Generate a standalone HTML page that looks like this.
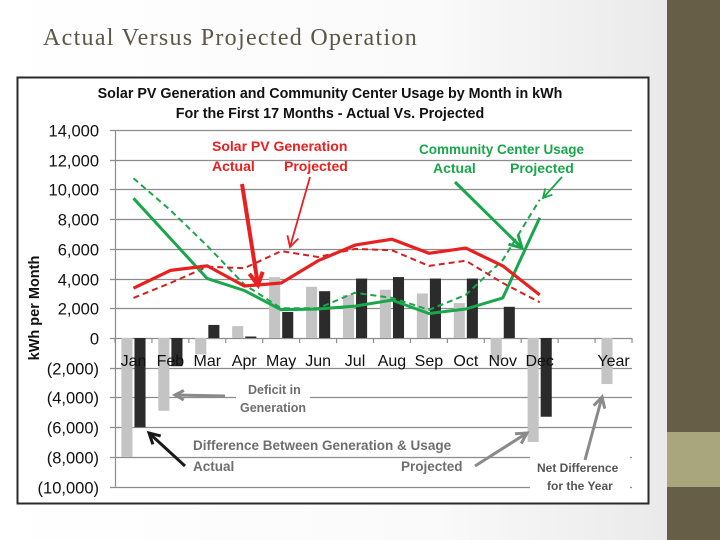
<!DOCTYPE html>
<html><head><meta charset="utf-8">
<style>
html,body{margin:0;padding:0;}
body{width:720px;height:540px;overflow:hidden;position:relative;background:linear-gradient(90deg,#ffffff 0%,#fafafa 60%,#e6e6e6 100%);font-family:"Liberation Sans",sans-serif;}
#side{position:absolute;left:667px;top:0;width:53px;height:540px;background:#675e47;}
#tan{position:absolute;left:667px;top:432px;width:53px;height:55px;background:#a9a57c;}
#title{position:absolute;left:43px;top:25px;font-family:"Liberation Serif",serif;font-size:24px;letter-spacing:1.3px;color:#5b5746;white-space:nowrap;}
svg{position:absolute;left:0;top:0;}
</style></head><body>
<div id="side"></div>
<div id="tan"></div>
<div id="title">Actual Versus Projected Operation</div>
<svg id="chart" width="720" height="540"></svg>
<script>
const categories=["Jan","Feb","Mar","Apr","May","Jun","Jul","Aug","Sep","Oct","Nov","Dec","","Year"];
const yTicks=[14000,12000,10000,8000,6000,4000,2000,0,-2000,-4000,-6000,-8000,-10000];
const yTickLabels=["14,000","12,000","10,000","8,000","6,000","4,000","2,000","0","(2,000)","(4,000)","(6,000)","(8,000)","(10,000)"];
const diffProjected=[-8000,-4900,-1100,800,4100,3450,2900,3250,3000,2350,-1500,-7000,null,-3100];
const diffActual=[-6000,-1900,880,100,1750,3150,4000,4100,4000,4000,2100,-5300,null,null];
const solarActual=[3350,4550,4850,3500,3700,5200,6250,6650,5700,6050,4850,2900];
const solarProjected=[2700,3700,4800,4700,5850,5450,6000,5900,4850,5200,3700,2400];
const usageActual=[9400,6700,4000,3200,1900,1950,2150,2550,1650,1950,2700,8100];
const usageProjected=[10750,8600,6200,3600,2000,2000,3050,2700,1900,2900,5250,9300];

const NS="http://www.w3.org/2000/svg";
const svg=document.getElementById('chart');
const X0=115,X1=632,Y14=130,Y0=338;
const step=(X1-X0)/categories.length;
function xC(i){return X0+step*(i+0.5);}
function yS(v){return Y0-(v/2000)*((Y0-Y14)/7);}
function mk(tag,attrs,parent){const e=document.createElementNS(NS,tag);for(const k in attrs)e.setAttribute(k,attrs[k]);(parent||svg).appendChild(e);return e;}
function txt(s,x,y,attrs,parent){const t=mk('text',Object.assign({x:x,y:y},attrs),parent);t.textContent=s;return t;}

const frame=mk('rect',{x:17.5,y:77.5,width:631,height:426,fill:'#fff',stroke:'#2a2a2a','stroke-width':2});


const ct1=txt('Solar PV Generation and Community Center Usage by Month in kWh',330,98,{'font-size':14.3,'font-weight':'bold','text-anchor':'middle',fill:'#111'});


const ct2=txt('For the First 17 Months - Actual Vs. Projected',330,118,{'font-size':14.3,'font-weight':'bold','text-anchor':'middle',fill:'#111'});



yTicks.forEach((v,i)=>{
  const y=Math.round(yS(v))+0.5;
  const g=mk('line',{x1:X0-5,y1:y,x2:X1,y2:y,stroke:'#8c8c8c','stroke-width':1.2});
  
  
  const t=txt(yTickLabels[i],99,y+6,{'font-size':16.5,'text-anchor':'end',fill:'#111'});
  
  
});
const ax=mk('line',{x1:X0+0.5,y1:yS(14000),x2:X0+0.5,y2:yS(-10000),stroke:'#8c8c8c','stroke-width':1.2});


const yt=txt('kWh per Month',0,0,{'font-size':14.5,'font-weight':'bold',fill:'#111','text-anchor':'middle',transform:'translate(39,308) rotate(-90)'});



const bw=step*0.3;
categories.forEach((c,i)=>{
  if(diffProjected[i]!==null){
    const v=diffProjected[i],y1=yS(Math.max(v,0)),y2=yS(Math.min(v,0));
    const b=mk('rect',{x:xC(i)-bw-1,y:y1,width:bw,height:y2-y1,fill:'#c4c4c4'});
    
    
  }
  if(diffActual[i]!==null){
    const v=diffActual[i],y1=yS(Math.max(v,0)),y2=yS(Math.min(v,0));
    const b=mk('rect',{x:xC(i)+1,y:y1,width:bw,height:y2-y1,fill:'#2b2b2b'});
    
    
  }
});
for(let i=0;i<=categories.length;i++){
  const x=X0+step*i;
  const tk=mk('line',{x1:x,y1:Y0,x2:x,y2:Y0+5,stroke:'#8c8c8c','stroke-width':1.2});
  
  
}
categories.forEach((c,i)=>{
  if(!c)return;
  const t=txt(c,xC(i),366,{'font-size':16,'text-anchor':'middle',fill:'#111'});
  
  
});

function line(data,color,dash,w,name){
  const pts=data.map((v,i)=>xC(i).toFixed(1)+','+yS(v).toFixed(1)).join(' ');
  const p=mk('polyline',{points:pts,fill:'none',stroke:color,'stroke-width':w,'stroke-dasharray':dash,'stroke-linejoin':'round'});
  
  
}
const RED='#e8201f',GREEN='#1aa64a';
line(usageProjected,GREEN,'6,4',2,'line-usage-projected');
line(solarProjected,'#d42020','6,4',2,'line-solar-projected');
line(usageActual,GREEN,'none',3,'line-usage-actual');
line(solarActual,RED,'none',3.2,'line-solar-actual');

function arrow(x1,y1,x2,y2,color,w,head,name){
  const g=mk('g',{});
  
  
  const a=Math.atan2(y2-y1,x2-x1);
  mk('line',{x1:x1,y1:y1,x2:x2,y2:y2,stroke:color,'stroke-width':w},g);
  const p=(ang)=>(x2-head*Math.cos(a+ang)).toFixed(1)+','+(y2-head*Math.sin(a+ang)).toFixed(1);
  mk('polyline',{points:p(0.5)+' '+x2+','+y2+' '+p(-0.5),fill:'none',stroke:color,'stroke-width':w},g);
}
function label(s,x,y,color,name,size){
  const t=txt(s,x,y,{'font-size':size||13.5,'font-weight':'bold',fill:color});
  
  
}
label('Solar PV Generation',212,151,RED,'solar-legend-title',14);
label('Actual',212,171,RED,'solar-legend-actual',14);
label('Projected',284,171,RED,'solar-legend-projected',14);
arrow(242,184,258,285,RED,4,14,'solar-actual-arrow');
arrow(310,177,290,247,RED,1.8,12,'solar-projected-arrow');
label('Community Center Usage',419,154,GREEN,'usage-legend-title',13.5);
label('Actual',433,173,GREEN,'usage-legend-actual',14);
label('Projected',510,173,GREEN,'usage-legend-projected',14);
arrow(455,182,522,248,GREEN,3,14,'usage-actual-arrow');
arrow(562,177,543,198,GREEN,1.8,10,'usage-projected-arrow');

const wb=mk('rect',{x:236,y:380,width:74,height:36,fill:'#fff'});


label('Deficit in',248,394,'#6e6e6e','deficit-label-1',12.5);
label('Generation',240,412,'#6e6e6e','deficit-label-2',12.5);
arrow(225,396,175,395,'#8a8a8a',3,10,'deficit-arrow');
label('Difference Between Generation & Usage',193,450,'#6e6e6e','difference-label',13.5);
label('Actual',193,471,'#6e6e6e','difference-actual-label',13.5);
label('Projected',401,471,'#6e6e6e','difference-projected-label',13.5);
arrow(185,466,149,433,'#1a1a1a',3,12,'actual-diff-arrow');
arrow(475,466,527,433,'#8a8a8a',3,12,'projected-diff-arrow');
const wb3=mk('rect',{x:530,y:455,width:100,height:40,fill:'#fff'});


label('Net Difference',537,472,'#555','net-difference-label',12);
label('for the Year',547,490,'#555','net-difference-label-2',12);
arrow(585,460,602,397,'#8a8a8a',3,12,'net-arrow');
</script>
</body></html>
